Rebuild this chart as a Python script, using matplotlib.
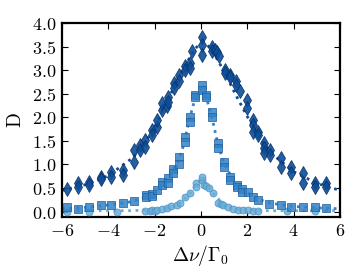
import matplotlib
matplotlib.use("Agg")
import matplotlib.pyplot as plt

plt.rcParams['mathtext.fontset'] = 'cm'
plt.rcParams['font.family'] = ['DejaVu Serif']

# Dark series (diamonds)
dark_x = [-5.8, -5.3, -5.3, -4.82, -4.82, -4.33, -4.33, -3.86, -3.86, -3.35, -3.35,
          -2.89, -2.89, -2.63, -2.63, -2.42, -2.42, -2.13, -2.13, -1.91, -1.91,
          -1.7, -1.7, -1.48, -1.41, -1.41, -1.17, -1.17, -0.94, -0.94, -0.69, -0.69,
          -0.48, -0.48, -0.4, 0.03, 0.03, 0.03, 0.46, 0.46, 0.6, 0.7, 0.8,
          1.03, 1.03, 1.25, 1.25, 1.5, 1.5, 1.7, 1.97, 1.97, 2.23, 2.23, 2.23,
          2.47, 2.47, 2.72, 2.72, 2.72, 2.98, 2.98, 3.44, 3.44, 3.91, 3.91,
          4.41, 4.41, 4.92, 4.92, 5.4, 5.4]
dark_y = [0.49, 0.60, 0.52, 0.63, 0.56, 0.74, 0.70, 0.84, 0.74, 0.88, 0.77,
          1.30, 1.06, 1.41, 1.30, 1.52, 1.38, 1.73, 1.62, 1.80, 1.94,
          2.16, 2.30, 2.23, 2.44, 2.33, 2.72, 2.62, 2.90, 2.76, 3.08, 3.00,
          3.15, 3.04, 3.40, 3.71, 3.54, 3.33, 3.50, 3.40, 3.42, 3.38, 3.30,
          3.00, 2.94, 2.90, 2.85, 2.76, 2.68, 2.55, 2.37, 2.19, 1.94, 1.83, 1.69,
          1.69, 1.62, 1.45, 1.35, 1.24, 1.30, 1.20, 1.13, 0.95, 0.95, 0.81,
          0.81, 0.60, 0.60, 0.52, 0.60, 0.52]
dark_line_x = [-6, -5, -4, -3, -2.5, -2, -1.5, -1, -0.5, -0.25, 0, 0.25, 0.5, 1, 1.5, 2, 2.5, 3, 4, 5, 6]
dark_line_y = [0.45, 0.57, 0.76, 1.12, 1.40, 1.78, 2.30, 2.80, 3.25, 3.45, 3.58, 3.55, 3.40, 2.98, 2.48, 2.02, 1.60, 1.25, 0.85, 0.60, 0.45]

# Medium series (squares)
mid_x = [-5.8, -5.3, -4.82, -4.33, -3.86, -3.35, -2.89, -2.37, -2.37, -2.11, -2.11,
         -1.91, -1.7, -1.7, -1.41, -1.41, -1.2, -1.2, -0.94, -0.94, -0.69, -0.69,
         -0.48, -0.48, -0.26, -0.26, 0.03, 0.03, 0.24, 0.24, 0.47, 0.47,
         0.75, 0.75, 1.01, 1.01, 1.25, 1.25, 1.54, 1.54, 1.79, 1.79, 2.04,
         2.26, 2.47, 2.95, 3.44, 3.91, 4.41, 4.92, 5.4]
mid_y = [0.10, 0.06, 0.10, 0.13, 0.13, 0.19, 0.22, 0.35, 0.31, 0.38, 0.33,
         0.45, 0.63, 0.56, 0.71, 0.60, 0.91, 0.81, 1.16, 1.02, 1.59, 1.48,
         2.01, 1.91, 2.47, 2.44, 2.69, 2.58, 2.47, 2.44, 2.12, 2.01,
         1.45, 1.34, 1.06, 0.95, 0.74, 0.67, 0.56, 0.52, 0.49, 0.42, 0.41,
         0.31, 0.24, 0.17, 0.13, 0.10, 0.10, 0.10, 0.08]
mid_line_x = [-6, -5, -4, -3, -2.5, -2, -1.5, -1, -0.75, -0.5, -0.25, 0, 0.25, 0.5, 0.75, 1, 1.5, 2, 2.5, 3, 4, 5, 6]
mid_line_y = [0.06, 0.09, 0.14, 0.21, 0.29, 0.42, 0.65, 1.05, 1.40, 1.95, 2.40, 2.55, 2.40, 1.95, 1.40, 1.02, 0.58, 0.40, 0.26, 0.18, 0.11, 0.08, 0.06]

# Light series (circles)
light_x = [-5.8, -4.82, -3.61, -2.42, -2.2, -2.13, -1.99, -1.91, -1.7, -1.48, -1.27,
           -1.05, -0.88, -0.69, -0.48, -0.23, -0.23, 0.03, 0.03, 0.13, 0.21, 0.36,
           0.53, 0.75, 0.85, 0.96, 1.18, 1.39, 1.61, 1.83, 2.04, 2.25, 2.47, 3.73, 4.92]
light_y = [0.00, 0.00, 0.00, 0.01, 0.01, 0.03, 0.01, 0.04, 0.06, 0.08, 0.11,
           0.15, 0.19, 0.31, 0.40, 0.60, 0.52, 0.67, 0.74, 0.56, 0.54, 0.50,
           0.40, 0.19, 0.17, 0.13, 0.10, 0.06, 0.04, 0.03, 0.03, 0.02, 0.02, 0.01, 0.01]
light_line_x = [-6, -4, -3, -2, -1.5, -1, -0.5, -0.25, 0, 0.25, 0.5, 1, 1.5, 2, 3, 4, 6]
light_line_y = [0.02, 0.02, 0.02, 0.04, 0.07, 0.14, 0.36, 0.55, 0.68, 0.58, 0.40, 0.14, 0.06, 0.03, 0.02, 0.02, 0.02]

xticks = [-6, -4, -2, 0, 2, 4, 6]
xtick_labels = ['$-6$', '$-4$', '$-2$', '$0$', '$2$', '$4$', '$6$']
yticks = [0.0, 0.5, 1.0, 1.5, 2.0, 2.5, 3.0, 3.5, 4.0]
ytick_labels = ['$0.0$', '$0.5$', '$1.0$', '$1.5$', '$2.0$', '$2.5$', '$3.0$', '$3.5$', '$4.0$']

c_dark = '#0b4f98'
c_dark_e = '#08306b'
c_mid = '#3282c6'
c_mid_e = '#1f5f9f'
c_light = '#6aaed6'
c_light_e = '#4a90c4'

fig = plt.figure(figsize=(3.6, 2.7), dpi=100)
ax = fig.add_axes([0.172, 0.197, 0.772, 0.718])

ax.plot(light_line_x, light_line_y, ':', color=c_light, lw=2.0, zorder=2)
ax.plot(mid_line_x, mid_line_y, ':', color=c_mid, lw=2.0, zorder=2)
ax.plot(dark_line_x, dark_line_y, ':', color=c_dark, lw=2.0, zorder=2)

ax.plot(light_x, light_y, 'o', ms=5, mfc=c_light, mec=c_light_e, mew=0.6, alpha=0.85, ls='none', zorder=3)
ax.plot(mid_x, mid_y, 's', ms=5.5, mfc=c_mid, mec=c_mid_e, mew=0.6, alpha=0.85, ls='none', zorder=3)
ax.plot(dark_x, dark_y, 'd', ms=7, mfc=c_dark, mec=c_dark_e, mew=0.6, alpha=0.9, ls='none', zorder=3)

ax.set_xlim(-6, 6)
ax.set_ylim(-0.11, 4.0)
ax.set_xticks(xticks)
ax.set_xticklabels(xtick_labels, fontsize=13)
ax.set_yticks(yticks)
ax.set_yticklabels(ytick_labels, fontsize=13)
ax.tick_params(direction='in', top=True, right=True, length=4, width=0.8, pad=4)
for s in ax.spines.values():
    s.set_linewidth(1.6)
ax.set_xlabel(r'$\Delta\nu/\Gamma_0$', fontsize=14, labelpad=2)
ax.set_ylabel(r'$\mathrm{D}$', fontsize=14, labelpad=5)

fig.savefig('out.png', dpi=100)
